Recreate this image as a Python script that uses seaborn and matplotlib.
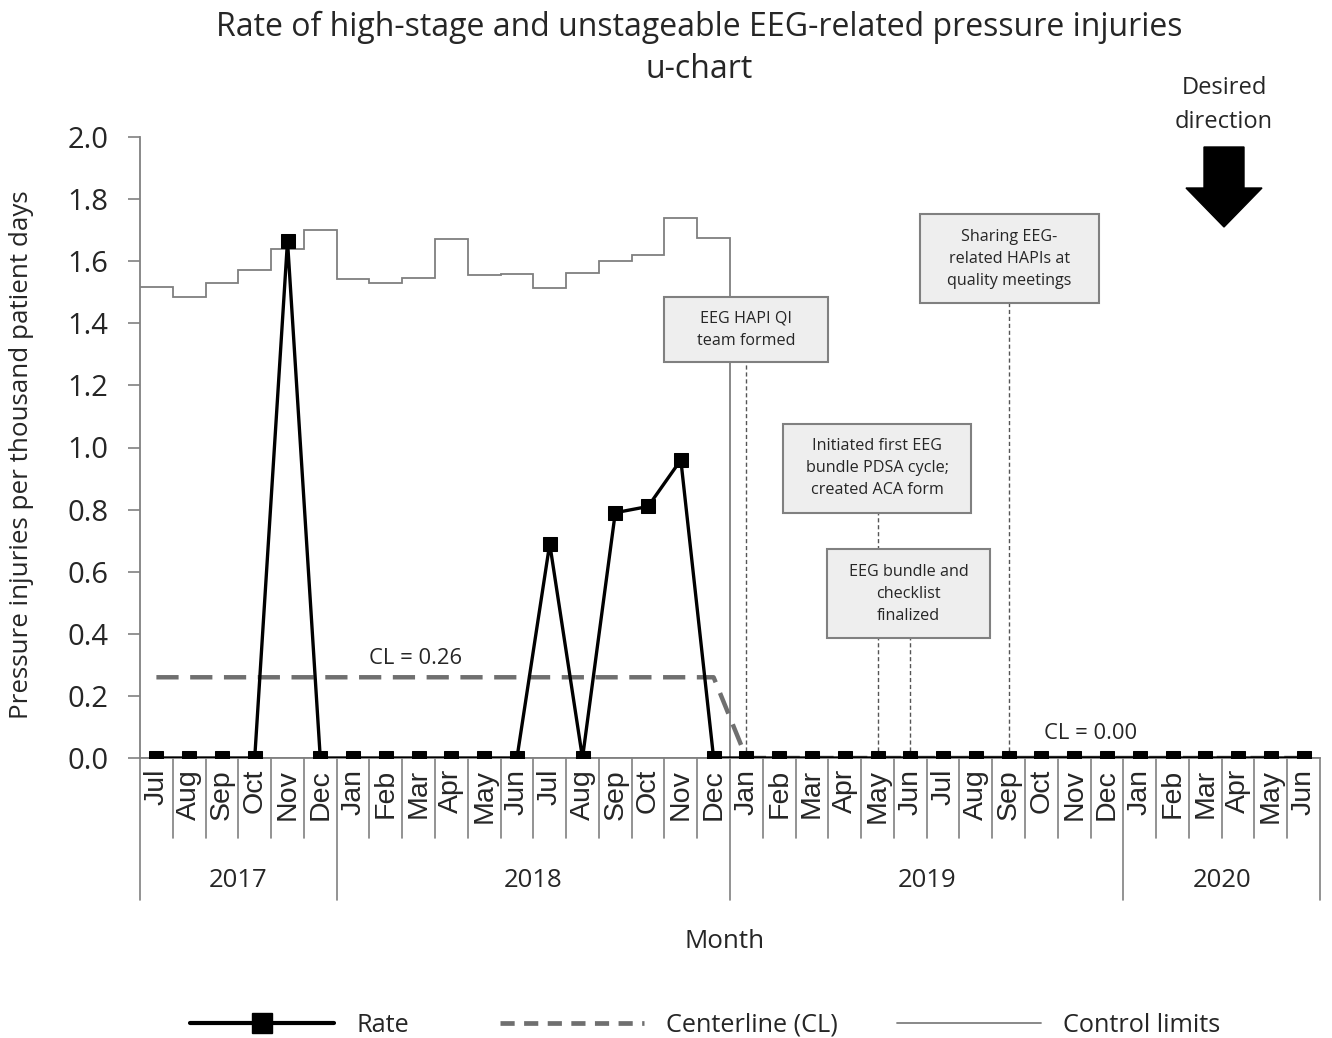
import numpy as np
import pandas as pd
import seaborn as sns
import matplotlib.pyplot as plt
import matplotlib.transforms as mtransforms
from matplotlib.patches import Rectangle, Polygon
from matplotlib.lines import Line2D

# ---- data ----
months = ['Jul', 'Aug', 'Sep', 'Oct', 'Nov', 'Dec',
          'Jan', 'Feb', 'Mar', 'Apr', 'May', 'Jun', 'Jul', 'Aug', 'Sep', 'Oct', 'Nov', 'Dec',
          'Jan', 'Feb', 'Mar', 'Apr', 'May', 'Jun', 'Jul', 'Aug', 'Sep', 'Oct', 'Nov', 'Dec',
          'Jan', 'Feb', 'Mar', 'Apr', 'May', 'Jun']
years = ['2017', '2018', '2019', '2020']
months_per_year = [6, 12, 12, 6]

rate = [0, 0, 0, 0, 1.665, 0,
        0, 0, 0, 0, 0, 0, 0.69, 0, 0.79, 0.81, 0.96, 0,
        0, 0, 0, 0, 0, 0, 0, 0, 0, 0, 0, 0,
        0, 0, 0, 0, 0, 0]
centerline = [0.26] * 18 + [0.0] * 18
upper_limit = [1.516, 1.486, 1.531, 1.571, 1.639, 1.700,
               1.542, 1.529, 1.547, 1.671, 1.555, 1.559, 1.513, 1.561, 1.600, 1.621, 1.738, 1.676] + [0.0] * 18
lower_limit = [0.0] * 36

events = ['EEG HAPI QI\nteam formed',
          'Initiated first EEG\nbundle PDSA cycle;\ncreated ACA form',
          'EEG bundle and\nchecklist\nfinalized',
          'Sharing EEG-\nrelated HAPIs at\nquality meetings']
event_month = [18, 22, 23, 26]
cl_labels = ['CL = 0.26', 'CL = 0.00']

# box layout (x0, x1 in month index, y0, y1 in data units)
boxes = [(15.48, 20.49, 1.275, 1.485),
         (19.12, 24.85, 0.789, 1.076),
         (20.46, 25.43, 0.386, 0.673),
         (23.30, 28.76, 1.465, 1.752)]

sns.set_style('white')
plt.rcParams['font.family'] = ['Open Sans', 'DejaVu Sans']
month_font = ['Liberation Sans', 'DejaVu Sans']

W, H = 1332, 1038
fig = plt.figure(figsize=(W / 100, H / 100), dpi=100)
ax = fig.add_axes([140 / W, 1 - 758 / H, 1180 / W, 621 / H])

def fx(px):
    return px / W

def fy(py):
    return 1 - py / H

df = pd.DataFrame({'idx': np.arange(len(months)), 'rate': rate, 'cl': centerline})

# control limits as stairs
edges = np.arange(len(months) + 1) - 0.5
ax.stairs(upper_limit, edges, baseline=None, color='#7f7f7f', lw=1.3, zorder=2)
ax.stairs(lower_limit, edges, baseline=None, color='#7f7f7f', lw=1.3, zorder=2)

sns.lineplot(data=df, x='idx', y='cl', ax=ax, color='#6f6f6f', lw=3.2,
             linestyle=(0, (5, 2.6)), zorder=4)
sns.lineplot(data=df, x='idx', y='rate', ax=ax, color='black', lw=2.4,
             marker='s', markersize=10, markeredgecolor='black', zorder=6)

# event boxes and connectors
for (x0, x1, y0, y1), txt, m in zip(boxes, events, event_month):
    ax.plot([m, m], [0, y0], color='#555555', lw=1, linestyle=(0, (3, 2)), zorder=2.5)
    ax.add_patch(Rectangle((x0, y0), x1 - x0, y1 - y0, facecolor='#eeeeee',
                           edgecolor='#808080', lw=1.5, zorder=3))
    ax.text((x0 + x1) / 2, (y0 + y1) / 2, txt, ha='center', va='center',
            fontsize=11.6, linespacing=1.5, zorder=3.5)

ax.text(7.9, 0.32, cl_labels[0], ha='center', va='center', fontsize=15.8)
ax.text(28.5, 0.08, cl_labels[1], ha='center', va='center', fontsize=15.8)

ax.set_xlim(-0.5, len(months) - 0.5)
ax.set_ylim(0, 2.0)
ax.set_yticks(np.arange(0, 2.01, 0.2))
ax.set_yticklabels([f'{v:.1f}' for v in np.arange(0, 2.01, 0.2)])
ax.set_xticks(np.arange(len(months)))
ax.set_xticklabels(months, rotation=90, family=month_font)
ax.tick_params(axis='x', length=0, pad=8, labelsize=20.5)
ax.tick_params(axis='y', direction='out', length=8.6, width=1.2, color='#808080',
               labelsize=21, pad=14, left=True)
ax.set_xlabel('')
ax.set_ylabel('')
for s in ['top', 'right']:
    ax.spines[s].set_visible(False)
for s in ['left', 'bottom']:
    ax.spines[s].set_color('#808080')
    ax.spines[s].set_linewidth(1.3)

fig.text(fx(22), fy(455), 'Pressure injuries per thousand patient days', rotation=90,
         ha='center', va='center', fontsize=18.7)

# category separators and year labels
tr = mtransforms.blended_transform_factory(ax.transData, ax.transAxes)
year_edges = np.cumsum([0] + months_per_year) - 0.5
for e in edges:
    low = -0.229 if e in year_edges else -0.129
    ax.plot([e, e], [0, low], transform=tr, color='#808080', lw=1.2, clip_on=False)
for i, y in enumerate(years):
    c = (year_edges[i] + year_edges[i + 1]) / 2
    ax.text(c, -0.198, y, transform=tr, ha='center', va='center', fontsize=18.5)

fig.text(fx(725), fy(941), 'Month', ha='center', va='center', fontsize=18.7)

# title
fig.text(fx(699), fy(27), 'Rate of high-stage and unstageable EEG-related pressure injuries',
         ha='center', va='center', fontsize=23)
fig.text(fx(699), fy(70), 'u-chart', ha='center', va='center', fontsize=23)

# desired direction
fig.text(fx(1224), fy(105), 'Desired\ndirection', ha='center', va='center',
         fontsize=17, linespacing=1.5)
arrow = [(1204, 147), (1244, 147), (1244, 188), (1262, 188), (1224, 227),
         (1186, 188), (1204, 188)]
fig.patches.append(Polygon([(fx(a), fy(b)) for a, b in arrow], closed=True,
                           facecolor='black', edgecolor='black',
                           transform=fig.transFigure))

# legend, one entry at a time
handles = [Line2D([], [], color='black', lw=3, marker='s', markersize=15),
           Line2D([], [], color='#6f6f6f', lw=3.4, linestyle=(0, (3, 2))),
           Line2D([], [], color='#7f7f7f', lw=1.3)]
labels = ['Rate', 'Centerline (CL)', 'Control limits']
starts = [190, 500, 897]
for h, lab, x0 in zip(handles, labels, starts):
    fig.legend([h], [lab], loc='center left', bbox_to_anchor=(fx(x0), fy(1025)),
               frameon=False, fontsize=18.2, handlelength=5.7, handletextpad=0.87,
               borderpad=0, borderaxespad=0)

fig.savefig('out.png', dpi=100)
